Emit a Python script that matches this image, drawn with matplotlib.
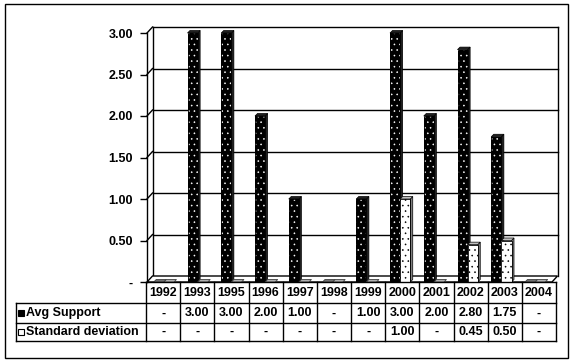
import numpy as np
import matplotlib
matplotlib.use("Agg")
import matplotlib.pyplot as plt
from matplotlib.patches import Polygon, Rectangle
from matplotlib.lines import Line2D

years = ["1992", "1993", "1995", "1996", "1997", "1998", "1999", "2000", "2001", "2002", "2003", "2004"]
avg_support = [np.nan, 3.00, 3.00, 2.00, 1.00, np.nan, 1.00, 3.00, 2.00, 2.80, 1.75, np.nan]
std_dev = [np.nan, np.nan, np.nan, np.nan, np.nan, np.nan, np.nan, 1.00, np.nan, 0.45, 0.50, np.nan]
series_names = ["Avg Support", "Standard deviation"]
yticks = [0.0, 0.5, 1.0, 1.5, 2.0, 2.5, 3.0]

plt.rcParams['font.family'] = ['Liberation Sans', 'DejaVu Sans']
plt.rcParams['font.weight'] = 'bold'
plt.rcParams['hatch.linewidth'] = 0.4

W, H = 574, 364
fig = plt.figure(figsize=(W / 100, H / 100), dpi=100)

def fx(px):
    return px / W

def fy(py):
    return 1 - py / H

# front plane of plot: x 147..552, y 33 (3.0) .. 282 (0)
L, R, T, B = 147, 552, 33, 282
ax = fig.add_axes([fx(L), fy(B), fx(R) - fx(L), fy(T) - fy(B)])
n = len(years)
ax.set_xlim(-0.5, n - 0.5)
ax.set_ylim(0, 3)
for s in ["top", "right", "bottom"]:
    ax.spines[s].set_visible(False)
ax.spines["left"].set_linewidth(1)
ax.set_xticks([])
ax.set_yticks(yticks)
ax.set_yticklabels(["-" if v == 0 else f"{v:.2f}" for v in yticks], fontsize=9, fontweight='bold')
ax.tick_params(axis='y', direction='out', length=5, width=1, pad=5)
ax.patch.set_visible(False)

# pixel -> data conversion
px_x = n / (R - L)
px_y = 3.0 / (B - T)
# wall depth offset
wdx, wdy = 5.5 * px_x, 6 * px_y
# bar depth offset
bdx, bdy = 2.5 * px_x, 2.5 * px_y

x0, x1 = -0.5, n - 0.5
lw = 1.0
# back wall gridlines + top
for v in yticks[1:]:
    ax.plot([x0 + wdx, x1 + wdx], [v + wdy, v + wdy], color='black', lw=lw, clip_on=False, zorder=1)
    ax.plot([x0, x0 + wdx], [v, v + wdy], color='black', lw=lw, clip_on=False, zorder=1)
# back wall verticals
ax.plot([x0 + wdx, x0 + wdx], [wdy, 3 + wdy], color='black', lw=lw, clip_on=False, zorder=1)
ax.plot([x1 + wdx, x1 + wdx], [wdy, 3 + wdy], color='black', lw=lw, clip_on=False, zorder=1)
# floor
ax.add_patch(Polygon([[x0, 0], [x0 + wdx, wdy], [x1 + wdx, wdy], [x1, 0]], closed=True,
                     facecolor='white', edgecolor='black', lw=lw, clip_on=False, zorder=1))

xs = np.arange(n)
bw = 0.3
offsets = [-0.15, 0.15]
face = ['black', 'white']
dots = ['white', 'black']
side_c = ['#202020', '#808080']
top_c = ['#202020', '#c0c0c0']
slab_c = ['#707070', '#b0b0b0']

for si, vals in enumerate([avg_support, std_dev]):
    for xi, v in zip(xs, vals):
        xl = xi + offsets[si] - bw / 2
        xr = xl + bw
        h = 0.0 if np.isnan(v) else v
        if h == 0:
            ax.add_patch(Polygon([[xl, 0], [xl + bdx, bdy], [xr + bdx, bdy], [xr, 0]], closed=True,
                                 facecolor=slab_c[si], edgecolor='#404040', lw=0.6, clip_on=False, zorder=3))
            continue
        # side face
        ax.add_patch(Polygon([[xr, 0], [xr + bdx, bdy], [xr + bdx, h + bdy], [xr, h]], closed=True,
                             facecolor=side_c[si], edgecolor='black', lw=0.5, clip_on=False, zorder=3 + si))
        # top face
        ax.add_patch(Polygon([[xl, h], [xl + bdx, h + bdy], [xr + bdx, h + bdy], [xr, h]], closed=True,
                             facecolor=top_c[si], edgecolor='black', lw=0.5, clip_on=False, zorder=3 + si))
        # front face with dot hatch
        ax.bar(xi + offsets[si], h, width=bw, color=face[si], edgecolor=dots[si], linewidth=0,
               hatch='...', zorder=3 + si)
        ax.bar(xi + offsets[si], h, width=bw, fill=False, edgecolor='black', linewidth=0.6, zorder=3 + si)

# ---- data table ----
tl, tr = 146, 556
cw = (tr - tl) / n
rows_y = [282, 303, 322.7, 340.7]
lab_l = 16

def hline(x_a, x_b, y):
    fig.add_artist(Line2D([fx(x_a), fx(x_b)], [fy(y), fy(y)], color='black', lw=1))

def vline(x, y_a, y_b):
    fig.add_artist(Line2D([fx(x), fx(x)], [fy(y_a), fy(y_b)], color='black', lw=1))

hline(tl, tr, rows_y[0])
for y in rows_y[1:]:
    hline(lab_l, tr, y)
vline(lab_l, rows_y[1], rows_y[3])
for i in range(n + 1):
    vline(tl + i * cw, rows_y[0], rows_y[3])

fs = 9
for i, yr in enumerate(years):
    fig.text(fx(tl + (i + 0.5) * cw), fy((rows_y[0] + rows_y[1]) / 2 + 0.5), yr,
             ha='center', va='center', fontsize=fs, fontweight='bold')
for r, vals in enumerate([avg_support, std_dev]):
    yc = (rows_y[r + 1] + rows_y[r + 2]) / 2 + 0.5
    for i, v in enumerate(vals):
        s = "-" if np.isnan(v) else f"{v:.2f}"
        fig.text(fx(tl + (i + 0.5) * cw), fy(yc), s, ha='center', va='center',
                 fontsize=fs, fontweight='bold')
    # legend key
    fig.add_artist(Rectangle((fx(18), fy(yc + 3)), fx(6), fy(0) - fy(6),
                             facecolor=face[r], edgecolor='black', lw=0.8))
    fig.text(fx(25.5), fy(yc), series_names[r], ha='left', va='center', fontsize=fs,
             fontweight='bold')

# outer frame
fig.add_artist(Rectangle((fx(5), fy(358)), fx(568) - fx(5), fy(4) - fy(358), fill=False,
                         edgecolor='black', lw=1))

fig.savefig("out.png", dpi=100)
